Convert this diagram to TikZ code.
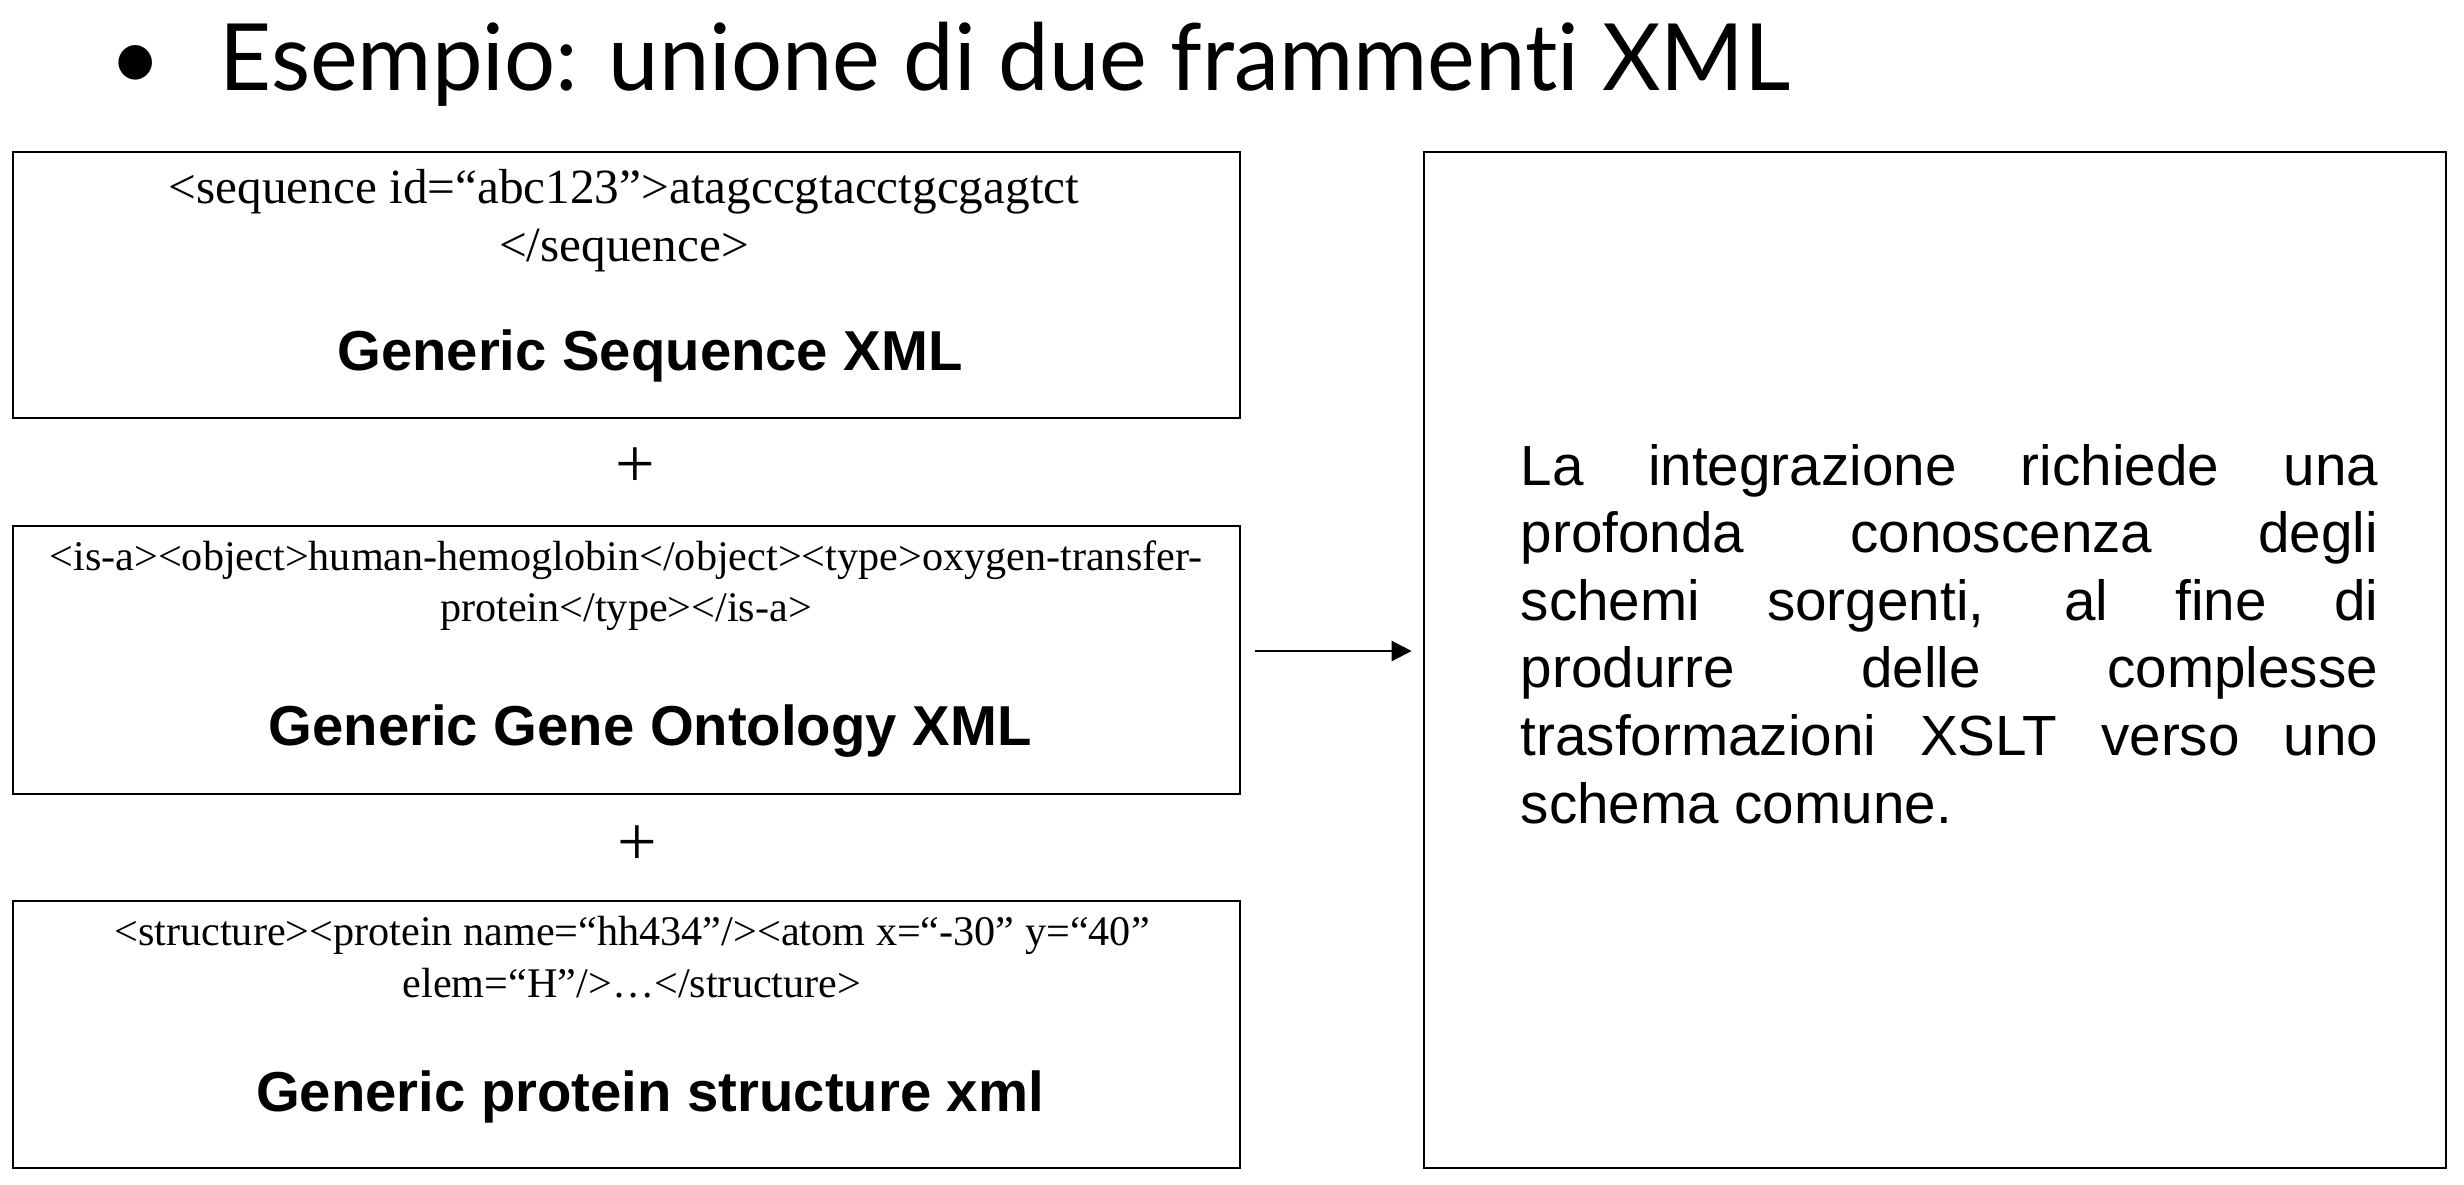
\documentclass[tikz,border=0pt]{standalone}
\usepackage{fontspec}
\setmainfont{Liberation Serif}
\newfontfamily\sansfont{Liberation Sans}
\newfontfamily\titlefont[Ligatures=NoCommon, FakeStretch=0.972]{Lato}
\usetikzlibrary{arrows.meta}

\tikzset{
	xmlbox/.style={draw, line width=0.6pt, inner sep=0pt, minimum width=12.27cm},
	boxlabel/.style={anchor=base, inner sep=0pt, font=\sansfont\bfseries\fontsize{16}{18}\selectfont},
	codebig/.style={anchor=base, inner sep=0pt, font=\fontsize{14}{15}\selectfont},
	codesmall/.style={anchor=base, inner sep=0pt, font=\fontsize{12}{13}\selectfont},
	plussign/.style={inner sep=0pt, font=\fontsize{20}{20}\selectfont},
	notetext/.style={anchor=base west, inner sep=0pt, font=\sansfont\fontsize{16.1}{19}\selectfont},
	titletext/.style={inner sep=0pt, font=\titlefont\fontsize{26.4}{30}\selectfont},
	flow/.style={-{Triangle[length=5.7pt,width=5.7pt]}, line width=0.75pt}
}

\newcommand{\jline}[1]{\makebox[8.57cm][s]{#1}}

\newcommand{\xmlbox}[5]{
	\pgfmathsetmacro{\XBmid}{(#2+#3)/2}
	\pgfmathsetmacro{\XBhgt}{(#3-#2)/100}
	\node[xmlbox, minimum height=\XBhgt cm] (#1) at (626.5, \XBmid) {};
	\node[boxlabel] (#1lab) at (650, #4) {#5};
}

\begin{document}
\begin{tikzpicture}[x=0.01cm, y=-0.01cm]
\fill[white] (0,0) rectangle (2464,1184);
\useasboundingbox (0,0) rectangle (2464,1184);

\node[titletext, anchor=base] (bullet) at (136,90) {•};
\node[titletext, anchor=base west] (title) at (219,90) {Esempio: unione di due frammenti XML};

\xmlbox{seqbox}{152}{418}{370}{Generic Sequence XML}
\xmlbox{genebox}{526}{794}{745}{Generic Gene Ontology XML}
\xmlbox{protbox}{901}{1168}{1111}{Generic protein structure xml}

\node[codebig] (seqA) at (624,203) {<sequence id=“abc123”>atagccgtacctgcgagtct};
\node[codebig] (seqB) at (624,261) {</sequence>};
\node[codesmall] (geneA) at (626,570) {<is-a><object>human-hemoglobin</object><type>oxygen-transfer-};
\node[codesmall] (geneB) at (626,621) {protein</type></is-a>};
\node[codesmall] (protA) at (632,945) {<structure><protein name=“hh434”/><atom x=“-30” y=“40”};
\node[codesmall] (protB) at (632,997) {elem=“H”/>…</structure>};

\node[plussign] (plusA) at (635,468) {+};
\node[plussign] (plusB) at (637,846) {+};

\node[draw, line width=0.6pt, minimum width=10.22cm, minimum height=10.16cm] (notebox) at (1935,660) {};
\foreach \txt [count=\i from 0] in {{La integrazione richiede una},{profonda conoscenza degli},{schemi sorgenti, al fine di},{produrre delle complesse},{trasformazioni XSLT verso uno}}
	\node[notetext] (note\i) at (1520, 485+67.6*\i) {\jline{\txt}};
\node[notetext] (note5) at (1520,823) {schema comune.};

\coordinate (arrowlvl) at (0,651);
\draw[flow, shorten <=0.14cm, shorten >=0.11cm] (genebox.east |- arrowlvl) -- (notebox.west |- arrowlvl);
\end{tikzpicture}
\end{document}
